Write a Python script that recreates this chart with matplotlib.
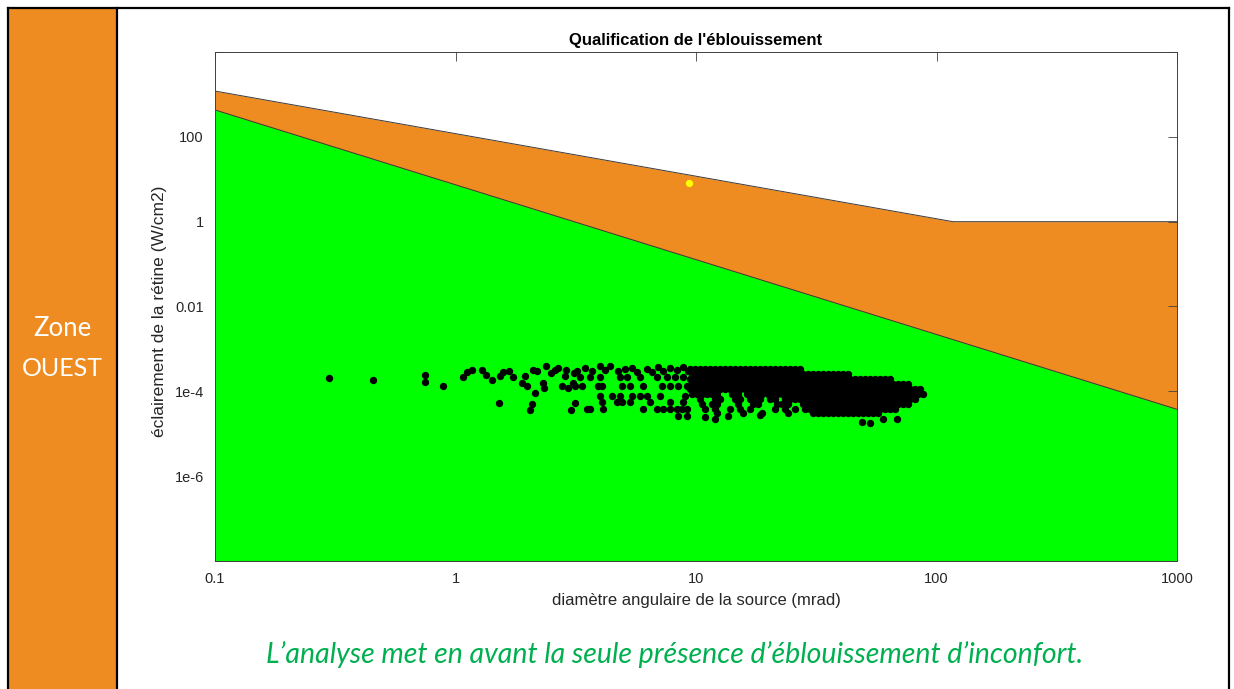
import matplotlib

matplotlib.use("Agg")

import matplotlib.pyplot as plt
from matplotlib.lines import Line2D
from matplotlib.patches import Rectangle

# limit curves (mrad, W/cm2)
limit_x = [0.1, 117, 1000]
orange_top = [1200, 1, 1]
green_x = [0.1, 1000]
green_top = [431, 3.77e-5]

# yellow point
hot_x = [9.35]
hot_y = [8.3]

# isolated points on the left of the cloud (mrad, W/cm2)
sparse_x = [0.298, 0.454, 0.746, 0.746, 0.887, 1.074, 1.116, 1.171, 1.29, 1.339,
            1.418, 1.517, 1.531, 1.576, 1.669, 1.734, 1.891, 1.945, 1.983, 2.08,
            2.04, 2.14, 2.10, 2.18, 2.31, 2.33, 2.38, 2.49, 2.59, 2.67,
            2.77, 2.88, 2.94, 3.08, 3.14, 3.02, 2.85, 3.11, 3.20,
            3.46, 3.70, 3.99, 4.18, 4.39, 4.75, 5.07, 5.42, 5.69, 6.26, 6.56,
            6.96, 7.29, 7.80, 8.34, 8.84, 9.27,
            3.29, 3.63, 3.99, 4.83, 5.18, 5.85, 6.89, 7.58, 8.18, 8.84,
            3.14, 3.36, 3.91, 4.07, 4.93, 5.32, 6.02, 7.23, 7.80, 8.42, 9.18,
            3.99, 4.48, 4.83, 5.42, 5.85, 6.26, 7.09, 9.00,
            4.07, 4.70, 4.93, 5.32, 6.44, 7.80, 8.84,
            3.53, 3.63, 4.11, 6.02, 6.89, 7.29, 7.80, 8.34, 8.76, 9.18,
            8.42, 9.18,
            49.0, 52.9, 59.9, 68.5, 10.90, 11.99, 13.59, 18.45]
sparse_y = [2.02e-4, 1.81e-4, 2.38e-4, 1.63e-4, 1.31e-4, 2.13e-4, 2.80e-4, 3.12e-4, 3.12e-4, 2.38e-4,
            1.81e-4, 5.22e-5, 2.25e-4, 2.80e-4, 2.96e-4, 2.13e-4, 1.54e-4, 2.25e-4, 1.31e-4, 4.94e-5,
            3.57e-5, 8.97e-5, 3.12e-4, 2.96e-4, 1.54e-4, 1.18e-4, 3.87e-4, 2.65e-4, 3.12e-4, 3.48e-4,
            1.31e-4, 3.12e-4, 1.18e-4, 1.54e-4, 5.22e-5, 3.57e-5, 2.25e-4, 2.65e-4, 2.96e-4,
            3.48e-4, 2.96e-4, 3.87e-4, 3.12e-4, 3.87e-4, 2.96e-4, 3.30e-4, 3.48e-4, 2.80e-4, 3.30e-4, 2.80e-4,
            3.67e-4, 2.96e-4, 3.48e-4, 3.12e-4, 3.67e-4, 2.96e-4,
            2.13e-4, 2.13e-4, 2.13e-4, 2.13e-4, 2.13e-4, 2.13e-4, 2.13e-4, 2.13e-4, 2.13e-4, 2.13e-4,
            1.31e-4, 1.31e-4, 1.31e-4, 1.31e-4, 1.31e-4, 1.31e-4, 1.31e-4, 1.31e-4, 1.31e-4, 1.31e-4, 1.31e-4,
            7.62e-5, 7.62e-5, 7.62e-5, 7.62e-5, 7.62e-5, 7.62e-5, 7.62e-5, 7.62e-5,
            5.51e-5, 5.51e-5, 5.51e-5, 5.51e-5, 5.51e-5, 5.51e-5, 5.51e-5,
            3.77e-5, 3.77e-5, 3.77e-5, 3.77e-5, 3.77e-5, 3.77e-5, 3.77e-5, 3.77e-5, 3.77e-5, 3.77e-5,
            2.58e-5, 2.58e-5,
            1.87e-5, 1.77e-5, 2.19e-5, 2.19e-5, 2.45e-5, 2.19e-5, 2.58e-5, 2.72e-5]

# dense part of the cloud, read row by row
core_levels = [3.30e-4, 2.51e-4, 1.91e-4, 1.46e-4, 1.11e-4,
               8.50e-5, 6.48e-5, 4.94e-5, 3.77e-5, 3.03e-5]
core_rows = [
    [9.44, 9.90, 10.39, 10.90, 11.43, 11.99, 12.58, 13.20, 13.85, 14.53, 15.24, 15.98,
     16.77, 17.59, 18.45, 19.36, 20.31, 21.30, 22.35, 23.45, 24.60, 25.80, 27.07],
    [9.67, 10.14, 10.64, 11.16, 11.71, 12.28, 12.88, 13.52, 14.18, 14.88, 15.61, 16.37,
     17.18, 18.02, 18.90, 19.83, 20.80, 21.82, 22.89, 24.02, 25.20, 26.42, 27.73, 29.09,
     30.51, 32.01, 33.58, 35.23, 36.95, 38.77, 40.67, 42.67],
    [9.44, 9.90, 10.39, 10.90, 11.43, 11.99, 12.58, 13.20, 13.85, 14.53, 15.24, 15.98,
     16.77, 17.59, 18.45, 19.36, 20.31, 21.30, 22.35, 23.45, 24.60, 25.80, 27.07, 28.40,
     29.79, 31.25, 32.79, 34.40, 36.08, 37.85, 39.71, 41.66, 43.70, 45.84, 48.09, 50.45,
     52.93, 55.52, 58.25, 61.11, 64.10],
    [9.67, 10.14, 10.64, 11.16, 11.71, 12.28, 12.88, 13.52, 14.18, 14.88, 15.61, 16.37,
     17.18, 18.02, 18.90, 19.83, 20.80, 21.82, 22.89, 24.02, 25.20, 26.42, 27.73, 29.09,
     30.51, 32.01, 33.58, 35.23, 36.95, 38.77, 40.67, 42.67, 44.76, 46.95, 49.25, 51.67,
     54.21, 56.86, 59.66, 62.59, 65.65, 68.88, 72.26, 75.80],
    [9.44, 9.90, 10.39, 10.90, 11.43, 11.99, 12.58, 13.20, 13.85, 14.53, 15.24, 15.98,
     16.77, 17.59, 18.45, 19.36, 20.31, 21.30, 22.35, 23.45, 24.60, 25.80, 27.07, 28.40,
     29.79, 31.25, 32.79, 34.40, 36.08, 37.85, 39.71, 41.66, 43.70, 45.84, 48.09, 50.45,
     52.93, 55.52, 58.25, 61.11, 64.10, 67.25, 70.55, 74.01, 77.64, 81.45, 85.44],
    [9.67, 10.14, 10.64, 11.16, 11.71, 12.28, 14.18, 14.88, 16.37,
     17.18, 18.02, 18.90, 19.83, 20.80, 21.82, 22.89, 24.02, 25.20, 26.42, 27.73, 29.09,
     30.51, 32.01, 33.58, 35.23, 36.95, 38.77, 40.67, 42.67, 44.76, 46.95, 49.25, 51.67,
     54.21, 56.86, 59.66, 62.59, 65.65, 68.88, 72.26, 75.80, 79.52, 83.42, 87.51],
    [10.39, 11.99, 12.58, 14.53, 15.24, 16.77, 17.59, 18.45, 20.31, 21.30, 23.45, 24.60,
     25.80, 27.07, 28.40, 29.79, 31.25, 32.79, 34.40, 36.08, 37.85, 39.71, 41.66, 43.70,
     45.84, 48.09, 50.45, 52.93, 55.52, 58.25, 61.11, 64.10, 67.25, 70.55, 74.01, 77.64,
     81.45],
    [10.64, 11.71, 12.28, 14.88, 17.18, 18.02, 21.82, 22.89, 24.02, 27.73, 29.09, 30.51,
     32.01, 33.58, 35.23, 36.95, 38.77, 40.67, 42.67, 44.76, 46.95, 49.25, 51.67, 54.21,
     56.86, 59.66, 62.59, 65.65, 68.88, 72.26, 75.80],
    [10.90, 11.99, 13.85, 15.24, 16.77, 21.30, 23.45, 25.80, 28.40, 29.79, 31.25, 32.79,
     34.40, 36.08, 37.85, 39.71, 41.66, 43.70, 45.84, 48.09, 50.45, 52.93, 55.52, 58.25,
     61.11, 64.10, 67.25],
    [12.28, 15.61, 18.90, 24.02, 30.51, 32.01, 33.58, 35.23, 36.95, 38.77, 40.67, 42.67,
     44.76, 46.95, 49.25, 51.67, 54.21, 56.86],
]

x_ticks = [0.1, 1, 10, 100, 1000]
x_tick_labels = ["0.1", "1", "10", "100", "1000"]
y_ticks = [1e-8, 1e-6, 1e-4, 1e-2, 1, 100, 1e4]
y_tick_labels = ["", "1e-6", "1e-4", "0.01", "1", "100", ""]

ORANGE = "#EE8B21"
GREEN = "#00FF00"

cloud_x = list(sparse_x)
cloud_y = list(sparse_y)
for level, row in zip(core_levels, core_rows):
    cloud_x += row
    cloud_y += [level] * len(row)

fig = plt.figure(figsize=(12.34, 6.89), dpi=100)
W, H = 1234, 689


def fx(px):
    return px / W


def fy(py):
    return 1 - py / H


# table cell background and borders
fig.patches.append(Rectangle((fx(8), 0), fx(117) - fx(8), fy(8), transform=fig.transFigure,
                             facecolor=ORANGE, edgecolor="none", zorder=0))
for line in [
    ((fx(8), fx(1229)), (fy(8), fy(8))),
    ((fx(8), fx(8)), (0, fy(8))),
    ((fx(117), fx(117)), (0, fy(8))),
    ((fx(1229), fx(1229)), (0, fy(8))),
]:
    fig.add_artist(Line2D(line[0], line[1], transform=fig.transFigure, color="black", lw=1.6))

fig.text(fx(62), fy(328), "Zone", color="white", fontsize=18.5, family="Lato",
         ha="center", va="center")
fig.text(fx(62), fy(368), "OUEST", color="white", fontsize=18, family="Lato",
         ha="center", va="center")
fig.text(fx(675), fy(655), "L’analyse met en avant la seule présence d’éblouissement d’inconfort.",
         color="#00B050", fontsize=20.5, family="Lato", style="italic",
         ha="center", va="center")

ax = fig.add_axes([fx(215), fy(561), fx(1177) - fx(215), fy(52) - fy(561)])
ax.set_xscale("log")
ax.set_yscale("log")
ax.set_xlim(0.1, 1000)
ax.set_ylim(1e-8, 1e4)

ax.fill_between(limit_x, 1e-8, orange_top, color=ORANGE, lw=0, zorder=1)
ax.fill_between(green_x, 1e-8, green_top, color=GREEN, lw=0, zorder=2)
ax.plot(limit_x, orange_top, color="#3a3a3a", lw=0.7, zorder=3)
ax.plot(green_x, green_top, color="#3a3a3a", lw=0.7, zorder=3)

ax.scatter(cloud_x, cloud_y, s=28, color="black", linewidths=0, zorder=4)
ax.scatter(hot_x, hot_y, s=28, color="#FFFF00", linewidths=0, zorder=5)

ax.set_xticks(x_ticks)
ax.set_xticklabels(x_tick_labels)
ax.set_yticks(y_ticks)
ax.set_yticklabels(y_tick_labels)
ax.minorticks_off()
ax.tick_params(direction="in", length=6.5, width=0.6, color="#404040", labelcolor="#262626",
               labelsize=10.5, top=True, right=True, pad=8)
for spine in ax.spines.values():
    spine.set_color("#404040")
    spine.set_linewidth(0.7)
    spine.set_zorder(6)

ax.set_title("Qualification de l'éblouissement", fontsize=12, fontweight="bold",
             family="Liberation Sans", pad=5)
ax.set_xlabel("diamètre angulaire de la source (mrad)", fontsize=12, color="#262626",
              family="Liberation Sans", labelpad=5)
ax.set_ylabel("éclairement de la rétine (W/cm2)", fontsize=12.5, color="#262626",
              family="Liberation Sans")
ax.yaxis.set_label_coords(-0.05, 0.49)
for label in ax.get_xticklabels() + ax.get_yticklabels():
    label.set_family("Liberation Sans")

fig.savefig("out.png", dpi=100)
